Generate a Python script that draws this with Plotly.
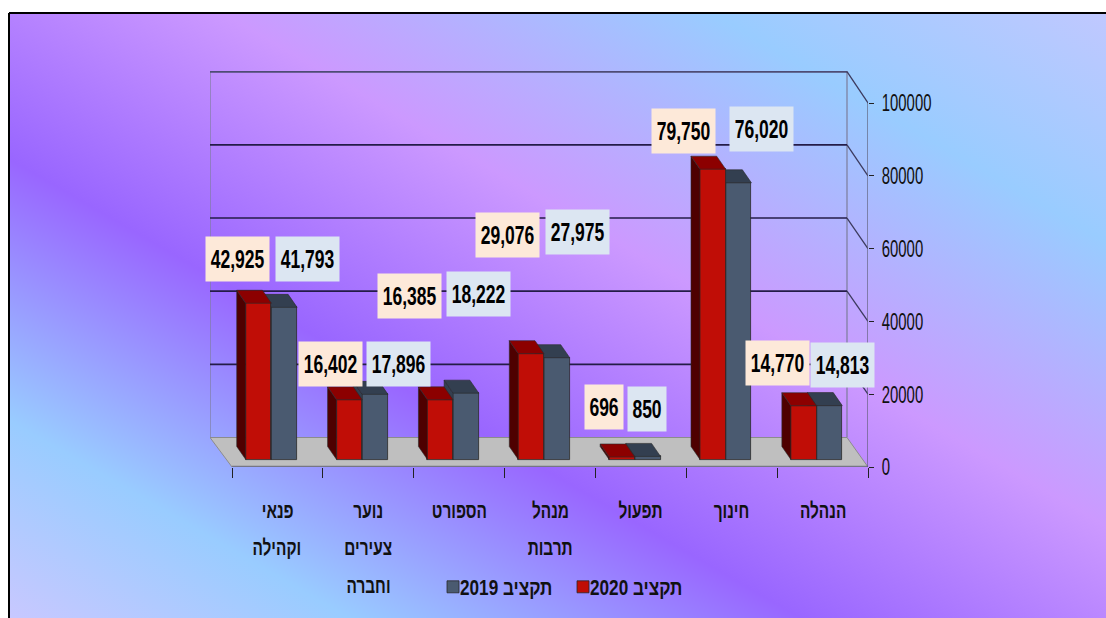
import base64
import plotly.graph_objects as go

# ---- data ----
categories = ["פנאי\nוקהילה", "נוער\nצעירים\nוחברה", "הספורט", "מנהל\nתרבות", "תפעול", "חינוך", "הנהלה"]
budget_2020 = [42925, 16402, 16385, 29076, 696, 79750, 14770]
budget_2019 = [41793, 17896, 18222, 27975, 850, 76020, 14813]
name_2020 = "תקציב 2020"
name_2019 = "תקציב 2019"
y_ticks = [0, 20000, 40000, 60000, 80000, 100000]

# label box centres in page pixels (placed by hand in the source chart)
label_px_2020 = [(237.5, 258.5), (330, 363.5), (409.5, 296), (507.5, 234.5), (604, 406.5), (683.5, 131), (777.5, 362.5)]
label_px_2019 = [(307.5, 258.5), (398.5, 363.5), (478, 294), (577.5, 231.5), (647, 408.5), (761, 129), (842.5, 364.5)]

# ---- geometry of the fake 3-D box (page pixels -> axis units) ----
W, H = 1106, 618
L, R, T, B = 210, 868, 71, 467
PX_PER_CAT = 90.857
PX_PER_VAL = 0.00364
X_MIN = (L - 232) / PX_PER_CAT - 0.5
X_MAX = 6.5
Y_MAX = (B - T) / PX_PER_VAL
WALL_DX = -21 / PX_PER_CAT
WALL_DY = 29.5 / PX_PER_VAL
WALL_SCALE = 1.005
BAR_BASE = 7.5 / PX_PER_VAL
BAR_W = 25.7 / PX_PER_CAT
BAR_SHIFT = -6 / PX_PER_CAT
DEPTH_DX = 9 / PX_PER_CAT
DEPTH_DY = 13 / PX_PER_VAL
FONT = "Liberation Sans, Arial"


def xval(px):
    return (px - 232) / PX_PER_CAT - 0.5


def yval(py):
    return (B - py) / PX_PER_VAL


def faces(values, centre_off):
    side_x, side_y, top_x, top_y = [], [], [], []
    for i, v in enumerate(values):
        x0 = i + BAR_SHIFT + centre_off - BAR_W / 2
        x1 = x0 + BAR_W
        b, t = BAR_BASE, BAR_BASE + v
        side_x += [x0, x0, x0 - DEPTH_DX, x0 - DEPTH_DX, x0, None]
        side_y += [b, t, t + DEPTH_DY, b + DEPTH_DY, b, None]
        top_x += [x0, x1, x1 - DEPTH_DX, x0 - DEPTH_DX, x0, None]
        top_y += [t, t, t + DEPTH_DY, t + DEPTH_DY, t, None]
    return side_x, side_y, top_x, top_y


fig = go.Figure()


def add_series(values, name, off, front, side, top, xa, ya):
    sx, sy, tx, ty = faces(values, off)
    fig.add_trace(go.Bar(x=[i + BAR_SHIFT + off for i in range(7)], y=values, base=BAR_BASE, width=BAR_W,
                         name=name, marker=dict(color=front, line=dict(color="#2a2a2a", width=0.8)),
                         xaxis=xa, yaxis=ya, hoverinfo="y"))
    for xs, ys, c in ((sx, sy, side), (tx, ty, top)):
        fig.add_trace(go.Scatter(x=xs, y=ys, fill="toself", fillcolor=c, mode="lines",
                                 line=dict(color="#2a2a2a", width=0.6), showlegend=False,
                                 hoverinfo="skip", xaxis=xa, yaxis=ya))


add_series(budget_2019, name_2019, BAR_W / 2, "#4a5a70", "#333f50", "#333f50", "x", "y")
add_series(budget_2020, name_2020, -BAR_W / 2, "#c00d06", "#4e0000", "#8c0000", "x2", "y2")

# ---- shapes ----
shapes = []
xb0, xb1 = X_MIN, X_MAX + WALL_DX
shapes.append(dict(type="path", xref="x", yref="y", layer="below",
                   path=f"M {xb0} {WALL_DY} L {xb1} {WALL_DY} L {X_MAX} 0 L -0.5 0 Z",
                   fillcolor="#bfbfbf", line=dict(color="#8c8c8c", width=1)))
shapes.append(dict(type="line", xref="x", yref="y", layer="below", x0=-0.5, x1=X_MAX, y0=0, y1=0,
                   line=dict(color="#767684", width=2.5)))
for x in (xb0, xb1):
    shapes.append(dict(type="line", xref="x", yref="y", layer="below", x0=x, x1=x, y0=WALL_DY, y1=Y_MAX,
                       line=dict(color="#7c7c9a", width=1.2)))
for v in y_ticks[1:]:
    c = "#4e4c74" if v == 100000 else "#241c48"
    w = 2.2 if v == 100000 else 1.7
    back = v * WALL_SCALE + WALL_DY
    shapes.append(dict(type="line", xref="x", yref="y", layer="below", x0=xb0, x1=xb1,
                       y0=back, y1=back, line=dict(color=c, width=w)))
    shapes.append(dict(type="line", xref="x", yref="y", layer="below", x0=xb1, x1=X_MAX,
                       y0=back, y1=v, line=dict(color="#3c3a5e", width=1.3)))
shapes.append(dict(type="line", xref="x", yref="y", layer="below", x0=X_MAX, x1=X_MAX, y0=0, y1=100000,
                   line=dict(color="#5a5a70", width=1.2)))
shapes.append(dict(type="line", xref="paper", yref="paper", x0=(9 - L) / (R - L), x1=(W - L) / (R - L),
                   y0=(B - 13) / (B - T), y1=(B - 13) / (B - T), line=dict(color="black", width=2)))
shapes.append(dict(type="line", xref="paper", yref="paper", x0=(9 - L) / (R - L), x1=(9 - L) / (R - L),
                   y0=(B - 13) / (B - T), y1=(B - H) / (B - T), line=dict(color="black", width=2)))

# ---- gradient page background ----
svg = f'''<svg xmlns="http://www.w3.org/2000/svg" width="{W}" height="{H}" viewBox="0 0 {W} {H}">
<defs><linearGradient id="g" gradientUnits="userSpaceOnUse" x1="9" y1="618" x2="547.7" y2="-310.6">
<stop offset="0" stop-color="#c8c8ff"/><stop offset="0.159" stop-color="#99ccff"/>
<stop offset="0.37" stop-color="#9966ff"/><stop offset="0.587" stop-color="#cc99ff"/>
<stop offset="0.816" stop-color="#99ccff"/><stop offset="1" stop-color="#c0c8ff"/>
</linearGradient></defs>
<rect width="{W}" height="{H}" fill="white"/><rect x="9" y="13" width="{W-9}" height="{H-13}" fill="url(#g)"/></svg>'''
bg = "data:image/svg+xml;base64," + base64.b64encode(svg.encode()).decode()
images = [dict(source=bg, xref="paper", yref="paper", x=(0 - L) / (R - L), y=(B - 0) / (B - T),
               sizex=W / (R - L), sizey=H / (B - T), xanchor="left", yanchor="top", sizing="stretch", layer="below")]

# ---- annotations ----
ann = []
rows_py = [510, 547, 585]
for i, c in enumerate(categories):
    for r, line in enumerate(c.split("\n")):
        ann.append(dict(x=i, y=(B - rows_py[r]) / (B - T), xref="x", yref="paper", text=line, showarrow=False,
                        xanchor="center", yanchor="middle",
                        font=dict(family=FONT, size=22, color="#111", weight=700)))
for vals, pos, bgc in ((budget_2020, label_px_2020, "#fde9d9"), (budget_2019, label_px_2019, "#dce6f2")):
    for v, (px, py) in zip(vals, pos):
        txt = f"{v:,}"
        ann.append(dict(x=xval(px), y=yval(py), xref="x", yref="y", text=txt, showarrow=False,
                        xanchor="center", yanchor="middle", width=63 if len(txt) > 3 else 38, height=44, borderpad=0,
                        align="center", valign="middle", bgcolor=bgc,
                        font=dict(family=FONT, size=25, color="black", weight=700)))

fig.update_layout(
    width=W, height=H, autosize=False,
    margin=dict(l=L, r=W - R, t=T, b=H - B, pad=0, autoexpand=False),
    paper_bgcolor="white", plot_bgcolor="rgba(0,0,0,0)",
    barmode="overlay", bargap=0,
    shapes=shapes, images=images, annotations=ann,
    xaxis=dict(range=[X_MIN, X_MAX], tickmode="array", tickvals=[i - 0.5 for i in range(8)],
               ticktext=[""] * 8, ticks="outside", ticklen=10, tickcolor="#222", tickwidth=1,
               showgrid=False, zeroline=False, showline=False, fixedrange=True),
    yaxis=dict(range=[0, Y_MAX], side="right", tickmode="array", tickvals=y_ticks,
               ticktext=[str(v) for v in y_ticks], ticks="outside", ticklen=5, tickcolor="#222",
               showgrid=False, zeroline=False, showline=False, fixedrange=True, ticklabelstandoff=3,
               tickfont=dict(family=FONT, size=24, color="#111")),
    xaxis2=dict(range=[X_MIN, X_MAX], visible=False, fixedrange=True, overlaying="x"),
    yaxis2=dict(range=[0, Y_MAX], visible=False, fixedrange=True, overlaying="y"),
    legend=dict(orientation="h", x=(433 - L) / (R - L), y=(B - 587) / (B - T), xanchor="left", yanchor="middle",
                entrywidth=85, entrywidthmode="pixels", bgcolor="rgba(0,0,0,0)",
                font=dict(family=FONT, size=22, color="#111", weight=700), traceorder="normal"),
    showlegend=True,
)

# the source text is horizontally condensed: squeeze the real SVG text glyphs to the same widths
post = """
document.body.style.margin='0';document.documentElement.style.overflow='hidden';
function squeeze(sel,k,dx){document.querySelectorAll(sel).forEach(function(t){
  var n=t.getComputedTextLength();t.setAttribute('textLength',n*k);t.setAttribute('lengthAdjust','spacingAndGlyphs');
  if(dx){t.setAttribute('x',parseFloat(t.getAttribute('x')||0)+dx);}
});}
squeeze('.annotation-text',0.70,0);
squeeze('.ytick text',0.62,0);
squeeze('.legendtext',0.78,-13);
"""
fig.write_html("out.html", config=dict(displayModeBar=False), post_script=post)
